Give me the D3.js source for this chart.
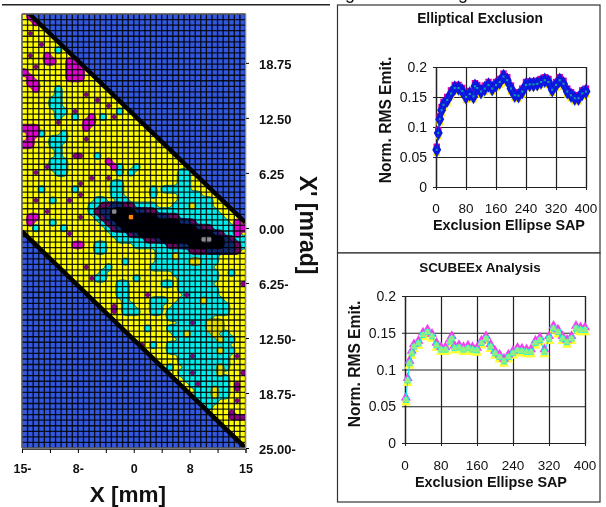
<!DOCTYPE html>
<html><head><meta charset="utf-8">
<script src="https://cdn.jsdelivr.net/npm/d3@7"></script>
<style>html,body{margin:0;padding:0;background:#fff}svg{display:block}text{font-family:"Liberation Sans",Arial,sans-serif;filter:blur(0.3px)}</style>
</head><body><svg id="c" width="606" height="507"></svg>
<script>
// ---------- phase-space map data (X mm, X' mrad; grid cells col,row) ----------
const mapXTicks=[-15,-7.5,0,7.5,15], mapXLabels=["15-","8-","0","8","15"];
const mapYTicks=[18.75,12.5,6.25,0,-6.25,-12.5,-18.75,-25];
const mapYLabels=["18.75","12.50","6.25","0.00","6.25-","12.50-","18.75-","25.00-"];
const gridCols=40, gridRows=78;
const bandUpper=[[-14,24.3],[15,0.6]], bandLower=[[-15,-0.4],[15,-25]];
const bandPolygon=[[-15,24.3],[-14,24.3],[15,0.6],[15,-25],[-15,-0.4]];
// runs: [row, firstCol, lastCol]
const cyanRuns=[[28,28,29],[29,28,29],[30,16,17],[30,28,29],[31,16,17],[31,27,29],[32,16,17],[32,28,31],[33,13,14],[33,17,18],[33,28,33],
[34,12,13],[34,20,23],[34,27,33],[35,12,13],[35,24,34],[36,13,13],[36,28,35],[37,14,14],[37,31,36],[38,15,15],[38,34,37],[39,16,18],[39,36,38],
[40,17,21],[40,38,39],[41,13,14],[41,20,25],[41,39,39],[42,13,14],[42,24,34],[43,24,34],[44,24,34],[44,18,18],[45,15,15],[45,23,33],[46,14,14],[46,27,34],
[47,13,14],[47,20,20],[47,28,34],[48,17,18],[48,25,26],[48,28,33],[49,17,18],[49,28,34],[50,17,18],[50,29,34],[51,18,18],[51,23,25],[51,28,35],
[52,18,19],[52,23,24],[52,27,36],[53,18,20],[53,23,24],[53,26,36],[54,26,33],[55,28,32],[56,22,22],[56,26,33],[57,27,36],[58,28,37],[59,23,23],[59,26,36],
[60,26,37],[61,28,36],[62,28,36],[63,26,26],[63,29,36],[64,28,34],[65,29,36],[66,30,36],[67,31,36],[68,31,36],[69,32,34],[70,33,33]];
const purpleRuns=[[34,14,19],[35,13,23],[36,14,27],[37,15,30],[38,16,33],[39,19,35],[40,22,37],[41,26,38],[42,30,38]];
const blueRuns=[[34,16,17],[35,14,21],[36,15,25],[37,16,29],[38,17,31],[39,20,34],[40,24,36],[41,28,37],[42,33,37]];
const blackRuns=[[35,16,19],[36,16,23],[37,17,27],[38,18,30],[39,21,33],[40,25,35],[41,30,35]];
const cyanSpots=[[6,6],[6,13],[6,14],[5,15],[6,15],[5,16],[6,16],[6,17],[7,17],[6,18],[9,18],[17,17],[14,18],[3,21],[7,21],[5,22],[6,22],[7,22],[5,23],[6,23],[6,24],[6,25],[5,26],[7,26],[5,27],[6,27],[7,27],[6,28],[7,28],[13,25],[17,27],[17,28],[19,28],[20,27],[3,31],[9,31],[23,31],[23,32],[25,31],[26,31],[5,33],[5,37],[7,38],[2,38],[37,46]];
const magentaSpots=[[1,0],[2,0],[2,1],[4,7],[4,8],[5,8],[8,8],[9,8],[8,9],[9,9],[10,9],[8,10],[9,10],[10,10],[8,11],[9,11],[10,11],[0,10],[1,11],[1,12],[2,12],[2,13],[12,18],[11,19],[12,19],[11,20],[0,20],[1,20],[2,20],[1,21],[2,21],[1,22],[0,23],[1,23],[15,26],[16,27],[1,36],[2,36],[1,37],[9,41],[10,41],[38,37],[38,38],[39,38],[38,39]];
const purpleSpots=[[1,3],[1,7],[3,5],[2,9],[11,14],[13,15],[15,16],[9,17],[16,18],[6,19],[9,25],[10,25],[11,22],[2,28],[4,27],[12,29],[15,29],[10,30],[10,32],[2,33],[8,33],[4,35],[10,36],[8,39],[39,48],[22,50],[29,50],[16,52],[16,53],[30,55],[12,47],[11,45],[21,59],[30,61],[38,61],[39,64],[30,64],[38,66],[38,67],[31,66],[38,69],[37,71],[37,72],[38,72],[39,72]];
const yellowHoles=[[30,34],[27,43],[30,44],[31,44],[32,51],[33,55],[34,55],[35,55],[33,56],[34,56],[35,56],[29,57],[34,57],[35,58],[35,60],[35,63],[35,64],[34,67],[34,68]];
const grayCore=[[16,35],[32,40],[33,40]];
const orangeCore=[[19,36]];
// ---------- emittance chart data ----------
const sapTicks=[0,80,160,240,320,400];
const emitTicks=[0,0.05,0.1,0.15,0.2];
const emitTickLabels=["0","0.05","0.1","0.15","0.2"];
const sapValues=[2,6,10,15,20,30,40,50,60,70,80,90,100,104,110,120,130,140,150,160,170,180,190,200,210,220,230,240,250,260,270,280,290,300,310,320,330,340,350,360,370,380,390,400];
const ellipticalEmit=[.062,.09,.113,.128,.137,.145,.156,.165,.165,.16,.15,.155,.151,.168,.165,.159,.164,.17,.164,.17,.175,.184,.178,.164,.153,.152,.159,.17,.171,.171,.172,.175,.178,.175,.162,.17,.178,.172,.159,.153,.148,.148,.156,.159];
const scubeexEmit=[.0585,.085,.1085,.122,.131,.1356,.147,.151,.145,.133,.127,.127,.138,.142,.129,.13,.127,.129,.127,.126,.136,.142,.131,.122,.117,.111,.117,.122,.126,.125,.124,.124,.136,.14,.124,.142,.156,.151,.142,.137,.142,.156,.154,.154];

const svg=d3.select("#c");
const defs=svg.append("defs");
defs.append("filter").attr("id","soft").attr("x","-5%").attr("y","-5%").attr("width","110%").attr("height","110%")
  .append("feGaussianBlur").attr("stdDeviation",0.55);
defs.append("filter").attr("id","soft2").attr("x","-5%").attr("y","-5%").attr("width","110%").attr("height","110%")
  .append("feGaussianBlur").attr("stdDeviation",0.4);

// page rules and clipped text from the page above
svg.append("line").attr("x1",2).attr("x2",330).attr("y1",4.7).attr("y2",4.7).attr("stroke","#222").attr("stroke-width",1.5);
[350,463].forEach(x=>svg.append("text").attr("x",x).attr("y",-1).attr("text-anchor","middle").attr("font-size",18).attr("fill","#111").text("g"));

// ---------- map ----------
const mx=d3.scaleLinear().domain([-15,15]).range([22,245.5]);
const my=d3.scaleLinear().domain([24.3,-25]).range([14,448]);
const colX=d3.scaleLinear().domain([0,gridCols]).range(mx.domain());
const rowY=d3.scaleLinear().domain([0,gridRows]).range(my.domain());
defs.append("clipPath").attr("id","band").append("polygon")
  .attr("points",bandPolygon.map(d=>[mx(d[0]),my(d[1])].join(",")).join(" "));
const map=svg.append("g").attr("filter","url(#soft)");
map.append("rect").attr("x",mx(-15)).attr("y",my(24.3)).attr("width",mx(15)-mx(-15)).attr("height",my(-25)-my(24.3)).attr("fill","#3358e0");
map.append("polygon").attr("points",bandPolygon.map(d=>[mx(d[0]),my(d[1])].join(",")).join(" ")).attr("fill","#ffff00");
const up=4;
const path=d3.geoPath(d3.geoTransform({point(x,y){this.stream.point(mx(colX(x/up)),my(rowY(y/up)));}}));
function mask(runs,spots){
  const w=gridCols*up,h=gridRows*up,m=new Float64Array(w*h);
  const put=(c,r)=>{for(let j=0;j<up;j++)for(let i=0;i<up;i++)m[(r*up+j)*w+c*up+i]=1;};
  (runs||[]).forEach(([r,a,b])=>{for(const c of d3.range(a,b+1))put(c,r);});
  (spots||[]).forEach(([c,r])=>put(c,r));
  if(d3.blur2)d3.blur2({data:m,width:w,height:h},1);
  return Array.from(m);
}
const inner=map.append("g").attr("clip-path","url(#band)");
function layer(runs,spots,fill,stroke,sw,level){
  const contours=d3.contours().size([gridCols*up,gridRows*up]).smooth(true).thresholds([level]);
  inner.append("path").datum(contours(mask(runs,spots))[0]).attr("d",path).attr("fill",fill)
    .attr("fill-rule","evenodd").attr("stroke",stroke).attr("stroke-width",sw);
}
layer(cyanRuns.concat(purpleRuns),cyanSpots,"#00eeee","#0c6a70",1,0.3);
layer(null,yellowHoles,"#e6e000","#5c6a20",1,0.3);
layer(null,magentaSpots,"#e000d0","#701070",0.8,0.3);
layer(null,purpleSpots,"#8a0088","#401040",0.5,0.5);
layer(purpleRuns,null,"#6a0a60","#300030",0.8,0.3);
layer(blueRuns,null,"#102a70","#0a1040",0.8,0.3);
layer(blackRuns,null,"#040408","#000",0.8,0.3);
layer(null,grayCore,"#8a8a90","none",0,0.4);
layer(null,orangeCore,"#ff8000","none",0,0.4);
// grid
const gridG=map.append("g").attr("stroke","#000");
d3.range(0,gridCols+1).forEach(c=>gridG.append("line").attr("x1",mx(colX(c))).attr("x2",mx(colX(c))).attr("y1",my(24.3)).attr("y2",my(-25)).attr("stroke-width",1.35).attr("stroke-opacity",.85));
d3.range(0,gridRows+1).forEach(r=>gridG.append("line").attr("y1",my(rowY(r))).attr("y2",my(rowY(r))).attr("x1",mx(-15)).attr("x2",mx(15)).attr("stroke-width",1.35).attr("stroke-opacity",.85));
// black band edges
const ln=d3.line().x(d=>mx(d[0])).y(d=>my(d[1]));
defs.append("clipPath").attr("id","mapc").append("rect").attr("x",mx(-15)).attr("y",my(24.3)).attr("width",mx(15)-mx(-15)).attr("height",my(-25)-my(24.3));
const edges=map.append("g").attr("clip-path","url(#mapc)");
[bandUpper,bandLower].forEach(e=>edges.append("path").attr("d",ln(e)).attr("fill","none").attr("stroke","#000").attr("stroke-width",4.5));
map.append("rect").attr("x",mx(-15)).attr("y",my(24.3)).attr("width",mx(15)-mx(-15)).attr("height",my(-25)-my(24.3)).attr("fill","none").attr("stroke","#8a8a8a").attr("stroke-width",1);

// map axes
const xa=d3.axisBottom(mx).tickValues(d3.range(-15,15.01,3.75)).tickSize(4).tickFormat(d=>{const i=mapXTicks.indexOf(d);return i<0?"":mapXLabels[i];});
const xg=svg.append("g").attr("transform","translate(0,449)").call(xa);
xg.select(".domain").attr("stroke","#444");
xg.selectAll("text").attr("font-size",12.5).attr("font-weight","bold").attr("fill","#111").attr("y",15).attr("font-family","Liberation Sans");
const ya=d3.axisRight(my).tickValues(mapYTicks).tickSize(3).tickFormat((d,i)=>mapYLabels[i]);
const yg=svg.append("g").attr("transform","translate(246,0)").call(ya);
yg.select(".domain").remove();
yg.selectAll("text").attr("font-size",13).attr("font-weight","bold").attr("fill","#111").attr("x",13).attr("dy","0.45em").attr("font-family","Liberation Sans");
svg.append("text").attr("x",128).attr("y",502).attr("text-anchor","middle").attr("font-size",22.5).attr("font-weight","bold").attr("fill","#111").text("X [mm]");
svg.append("text").attr("transform","translate(300,225) rotate(90)").attr("text-anchor","middle").attr("font-size",23).attr("font-weight","bold").attr("fill","#111").text("X' [mrad]");

// ---------- panels ----------
function panel(o){
  svg.append("rect").attr("x",o.box[0]).attr("y",o.box[1]).attr("width",o.box[2]).attr("height",o.box[3]).attr("fill","#fff").attr("stroke","#333").attr("stroke-width",1.2);
  const x=d3.scaleLinear().domain([0,400]).range(o.xr), y=d3.scaleLinear().domain([0,.2]).range(o.yr);
  const g=svg.append("g").attr("filter","url(#soft2)");
  const gx=g.append("g").attr("transform",`translate(0,${o.yr[0]})`).call(d3.axisBottom(x).tickValues(sapTicks).tickSize(o.yr[1]-o.yr[0]).tickFormat(()=>""));
  gx.selectAll("line,path").attr("stroke","#222").attr("stroke-width",1.2);
  g.append("g").attr("transform",`translate(0,${o.yr[0]})`).call(d3.axisBottom(x).tickValues(sapTicks).tickSize(3).tickFormat(()=>"")).selectAll("line").attr("stroke","#222");
  const gy=g.append("g").attr("transform",`translate(${o.xr[0]},0)`).call(d3.axisLeft(y).tickValues(emitTicks).tickSize(-(o.xr[1]-o.xr[0])).tickFormat(()=>""));
  gy.selectAll("line,path").attr("stroke","#222").attr("stroke-width",1.2);
  g.append("g").attr("transform",`translate(${o.xr[0]},0)`).call(d3.axisLeft(y).tickValues(emitTicks).tickSize(3).tickFormat(()=>"")).selectAll("line,path").attr("stroke","#222");
  const line=d3.line().x((d,i)=>x(sapValues[i])).y(d=>y(d));
  const pts=g.append("g");
  o.layers.forEach(l=>{
    const sym=d3.symbol().type(l.type).size(l.size)();
    pts.append("g").selectAll("path").data(o.values).join("path").attr("d",sym).attr("fill",l.fill)
      .attr("transform",(d,i)=>`translate(${x(sapValues[i])+(l.dx||0)},${y(d)+(l.dy||0)})`);
  });
  pts.append("path").attr("d",line(o.values)).attr("fill","none").attr("stroke",o.lineColor).attr("stroke-width",1);
  o.top.forEach(l=>{
    const sym=d3.symbol().type(l.type).size(l.size)();
    pts.append("g").selectAll("path").data(o.values).join("path").attr("d",sym).attr("fill",l.fill)
      .attr("transform",(d,i)=>`translate(${x(sapValues[i])},${y(d)})`);
  });
  sapTicks.forEach(t=>svg.append("text").attr("x",x(t)).attr("y",o.xlab).attr("text-anchor","middle").attr("font-size",13.5).attr("fill","#111").text(t));
  emitTicks.forEach((t,i)=>svg.append("text").attr("x",o.xr[0]-9).attr("y",y(t)+5).attr("text-anchor","end").attr("font-size",14).attr("fill","#111").text(emitTickLabels[i]));
  svg.append("text").attr("x",o.title[0]).attr("y",o.title[1]).attr("text-anchor","middle").attr("font-size",o.titleSize).attr("font-weight","bold").attr("fill","#111").text(o.titleText);
  svg.append("text").attr("x",o.xt[0]).attr("y",o.xt[1]).attr("text-anchor","middle").attr("font-size",14.4).attr("font-weight","bold").attr("fill","#111").text("Exclusion Ellipse SAP");
  svg.append("text").attr("transform",`translate(${o.yt[0]},${o.yt[1]}) rotate(-90)`).attr("text-anchor","middle").attr("font-size",15.6).attr("font-weight","bold").attr("fill","#111").text("Norm. RMS Emit.");
}
panel({box:[337.5,5,262.5,248],xr:[436,586],yr:[187,67],xlab:213,title:[480,23],titleSize:13.8,titleText:"Elliptical Exclusion",xt:[509,230],yt:[391,120],
  values:ellipticalEmit,lineColor:"#1030e0",
  layers:[{type:d3.symbolSquare,size:42,fill:"#ffee00",dy:3},{type:d3.symbolSquare,size:42,fill:"#e000a0",dy:-3},{type:d3.symbolDiamond,size:70,fill:"#0a18e0"}],
  top:[{type:d3.symbolSquare,size:4,fill:"#10a0a0"}]});
panel({box:[337.5,253,262.5,249],xr:[405,585],yr:[443,296],xlab:470,title:[480,272],titleSize:13.4,titleText:"SCUBEEx Analysis",xt:[491,487],yt:[360,364],
  values:scubeexEmit,lineColor:"#00e8f0",
  layers:[{type:d3.symbolTriangle,size:44,fill:"#ffff30",dy:2.5},{type:d3.symbolTriangle,size:44,fill:"#f040f0",dy:-2.5},{type:d3.symbolSquare,size:34,fill:"#20f0e0"}],
  top:[{type:d3.symbolTriangle,size:24,fill:"#90f080"}]});
</script></body></html>
